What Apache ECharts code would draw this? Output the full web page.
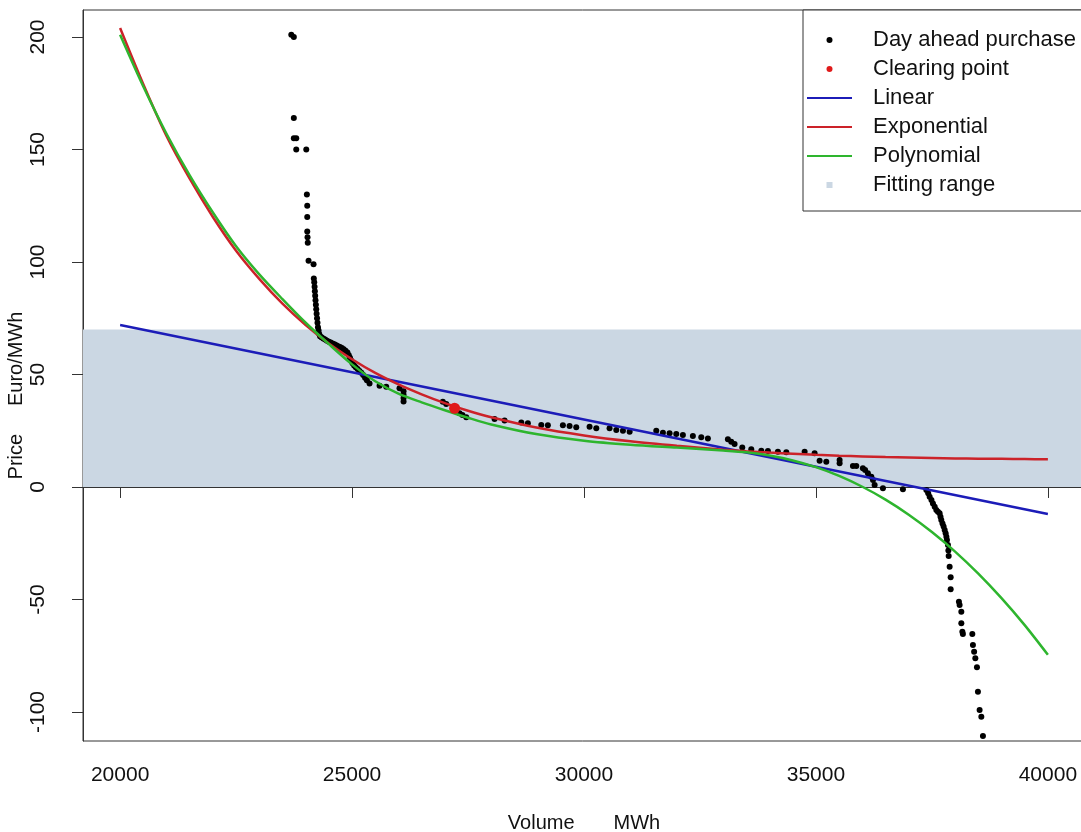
<!DOCTYPE html>
<html>
<head>
<meta charset="utf-8">
<script src="https://cdn.jsdelivr.net/npm/echarts@6/dist/echarts.min.js"></script>
<style>
html,body{margin:0;padding:0;background:#fff;}
#chart{width:1081px;height:832px;}
</style>
</head>
<body>
<div id="chart"></div>
<script>
// ---- Data ----
const xTicks = [20000, 25000, 30000, 35000, 40000];
const yTicks = [-100, -50, 0, 50, 100, 150, 200];

// Day ahead purchase (volume MWh, price Euro/MWh)
const purchaseVolume = [23690,23745,23745,23745,23797,23797,24013,24026,24034,24034,24034,24040,24045,24062,24170,24176,
 24185,24192,24198,24205,24212,24220,24228,24236,24245,24255,24265,24278,24292,24310,24340,24380,24420,24460,24500,24540,
 24580,24620,24660,24700,24740,24780,24820,24860,24900,24930,24955,24980,25010,25045,25080,25120,25160,25200,25240,25280,
 25320,25377,25593,25737,26023,26110,26110,26110,26110,26957,27030,27318,27380,27462,28072,28288,28648,28790,29079,29221,
 29545,29689,29833,30120,30265,30551,30696,30840,30984,31558,31701,31845,31989,32132,32347,32528,32671,33102,33174,33246,
 33412,33606,33822,33965,34180,34361,34756,34971,35079,35223,35510,35510,35797,35870,36012,36060,36120,36194,36230,36265,
 36444,36875,37380,37420,37451,37490,37522,37560,37595,37630,37666,37685,37702,37728,37752,37775,37796,37812,37824,37846,
 37855,37861,37882,37904,37904,38082,38097,38134,38134,38156,38168,38371,38384,38410,38436,38471,38492,38528,38565,38600];
const purchasePrice = [201,200,164,155,155,150,150,130,125,120,113.5,111,108.6,100.6,99,92.7,
 91,89,87,85,83,81,79,77,75,73,71,69.5,68,67,66.5,66,65.5,65,64.6,64.2,
 63.8,63.4,63,62.6,62.2,61.8,61.2,60.6,59.8,58.6,57.4,56.2,55,54,53.2,52.4,51.6,50.8,49.8,48.6,
 47.4,46,45,44.5,43.9,42.5,41,39.5,38,37.9,36.9,32.8,32,31,30.2,29.5,28.7,28.3,27.6,27.4,
 27.4,27.1,26.5,26.8,26.1,26.1,25.3,25,24.6,25,24.1,23.9,23.6,23.1,22.7,22.1,21.6,21.2,20.1,19.1,
 17.6,16.8,16.1,16,15.7,15.4,15.7,15,11.7,11.2,12,10.5,9.3,9.3,8.3,7.6,6.1,4.6,3.1,0.9,
 -0.6,-1.0,-1.3,-2.8,-4.3,-5.8,-7.3,-8.8,-10.2,-11,-11.7,-13.2,-14.7,-16.2,-17.6,-19.1,-20.6,-22.1,-23.6,-25.8,
 -28.2,-30.7,-35.4,-40.1,-45.5,-51,-52.4,-55.4,-60.6,-64.3,-65.3,-65.3,-70.2,-73.2,-76.1,-80.1,-91,-99.1,-102.1,-110.7];

// Clearing point
const clearingVolume = [27210];
const clearingPrice = [35];

// Linear fit
const linearVolume = [20000, 40000];
const linearPrice = [72, -12];

// Exponential & polynomial fits
const fitVolume = [20000,20500,21000,21500,22000,22500,23000,23500,24000,24500,25000,25500,26000,26500,27000,27500,28000,
 29000,30000,31000,32000,33000,33500,34000,34500,35000,35500,36000,36500,37000,37500,38000,38500,39000,39500,40000];
const expPrice = [204,179,156,137,120,105,92.5,81.5,72,63.8,56.8,50.7,45.6,41.2,37.3,33.9,31,
 26.3,22.9,20.3,18.3,16.6,15.9,15.3,14.8,14.3,13.9,13.6,13.3,13.1,12.9,12.7,12.6,12.5,12.4,12.3];
const polyPrice = [201,178,157,138.5,122,107,94.5,83.5,73,63.5,54.5,47,41.5,37.6,34.1,30.8,27.8,
 23.4,20.6,18.8,17.5,16.2,15.4,14,11.8,8.8,4.9,0.1,-5.6,-12.3,-20,-28.7,-38.5,-49.4,-61.4,-74.6];

// Fitting range (price band)
const fitRangeLow = 0;
const fitRangeHigh = 70;

// ---- Chart ----
const zip = (a, b) => a.map((v, i) => [v, b[i]]);
const FONT = "'Liberation Sans', Arial, sans-serif";
const chart = echarts.init(document.getElementById('chart'), null, {renderer: 'canvas'});
const hiddenMarker = {opacity: 0, borderWidth: 0};

chart.setOption({
  animation: false,
  backgroundColor: '#ffffff',
  textStyle: {fontFamily: FONT},
  grid: {left: 83, top: 10, right: -4, bottom: 91, outerBoundsMode: 'none', containLabel: false,
    show: true, borderColor: '#333', borderWidth: 1, backgroundColor: 'transparent'},
  legend: {
    orient: 'vertical', left: 803, top: 10,
    padding: [19, 20, 15, 3],
    itemGap: 7, itemWidth: 45, itemHeight: 6,
    backgroundColor: '#fff', borderColor: '#333', borderWidth: 1, borderRadius: 0,
    align: 'left',
    textStyle: {fontSize: 22, color: '#111', fontFamily: FONT, lineHeight: 22, padding: [0, 0, 0, 16]},
    data: [
      {name: 'Day ahead purchase', icon: 'circle'},
      {name: 'Clearing point', icon: 'circle'},
      {name: 'Linear', itemStyle: hiddenMarker},
      {name: 'Exponential', itemStyle: hiddenMarker},
      {name: 'Polynomial', itemStyle: hiddenMarker},
      {name: 'Fitting range', icon: 'path://M0,0L10,0L10,10L0,10Z'}
    ]
  },
  xAxis: {
    type: 'value', min: 19200, max: 40800,
    name: 'Volume       MWh', nameLocation: 'middle', nameGap: 72, nameMoveOverlap: false,
    nameTextStyle: {fontSize: 20, color: '#111', fontFamily: FONT},
    axisLine: {show: true, lineStyle: {color: '#333'}},
    axisTick: {show: true, inside: false, length: 11, customValues: xTicks, lineStyle: {color: '#333'}},
    axisLabel: {customValues: xTicks, fontSize: 21, color: '#111', margin: 24, fontFamily: FONT,
      formatter: v => String(v)},
    splitLine: {show: false}
  },
  yAxis: {
    type: 'value', min: -112.9, max: 212,
    name: 'Price     Euro/MWh', nameLocation: 'middle', nameGap: 57, nameRotate: 90, nameMoveOverlap: false,
    nameTextStyle: {fontSize: 20, color: '#111', fontFamily: FONT, padding: [0, 40, 0, 0]},
    axisLine: {show: true, lineStyle: {color: '#333'}},
    axisTick: {show: true, inside: false, length: 11, customValues: yTicks, lineStyle: {color: '#333'}},
    axisLabel: {customValues: yTicks, rotate: 90, fontSize: 21, color: '#111', margin: 34, fontFamily: FONT,
      formatter: v => String(v)},
    splitLine: {show: false}
  },
  series: [
    {
      name: 'Fitting range', type: 'line', data: [], z: 1,
      itemStyle: {color: '#cbd7e3'}, lineStyle: {color: '#cbd7e3'},
      markArea: {silent: true, itemStyle: {color: '#cbd7e3', opacity: 1},
        data: [[{yAxis: fitRangeLow}, {yAxis: fitRangeHigh}]]}
    },
    {
      name: 'Day ahead purchase', type: 'scatter', z: 3,
      symbol: 'circle', symbolSize: 6,
      itemStyle: {color: '#000', opacity: 1},
      data: zip(purchaseVolume, purchasePrice)
    },
    {
      name: 'Linear', type: 'line', z: 4, symbol: 'none',
      lineStyle: {color: '#1c1cb8', width: 2.5}, itemStyle: {color: '#1c1cb8'},
      data: zip(linearVolume, linearPrice)
    },
    {
      name: 'Exponential', type: 'line', z: 4, symbol: 'none', smooth: 0.3,
      lineStyle: {color: '#cc2229', width: 2.5}, itemStyle: {color: '#cc2229'},
      data: zip(fitVolume, expPrice)
    },
    {
      name: 'Polynomial', type: 'line', z: 4, symbol: 'none', smooth: 0.3,
      lineStyle: {color: '#2eb52e', width: 2.5}, itemStyle: {color: '#2eb52e'},
      data: zip(fitVolume, polyPrice)
    },
    {
      name: 'Clearing point', type: 'scatter', z: 6,
      symbol: 'circle', symbolSize: 11,
      itemStyle: {color: '#e01a1a', opacity: 1},
      data: zip(clearingVolume, clearingPrice)
    }
  ]
});
</script>
</body>
</html>
